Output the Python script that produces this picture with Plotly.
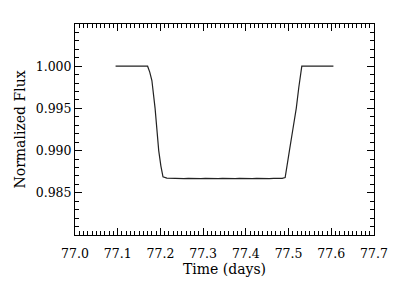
import plotly.graph_objects as go

time_days = [77.095, 77.170, 77.175, 77.180, 77.1875, 77.196, 77.201, 77.206,
             77.215, 77.225, 77.235, 77.245, 77.255, 77.265, 77.275, 77.285,
             77.295, 77.305, 77.315, 77.325, 77.335, 77.345, 77.355, 77.365,
             77.375, 77.385, 77.395, 77.405, 77.415, 77.425, 77.435, 77.445,
             77.455, 77.465, 77.475, 77.485, 77.492, 77.497, 77.502, 77.510,
             77.518, 77.524, 77.528, 77.531, 77.605]
flux = [1.0000, 1.0000, 0.9993, 0.9983, 0.9950, 0.9900, 0.9882, 0.9869,
        0.98675, 0.98672, 0.98668, 0.98672, 0.98668, 0.98672, 0.98668, 0.98672,
        0.98668, 0.98672, 0.98668, 0.98672, 0.98668, 0.98672, 0.98668, 0.98672,
        0.98668, 0.98672, 0.98668, 0.98672, 0.98668, 0.98672, 0.98668, 0.98672,
        0.98668, 0.98672, 0.98668, 0.98672, 0.98680, 0.9882, 0.9900, 0.9925,
        0.9950, 0.9975, 0.9993, 1.0000, 1.0000]

x_ticks = [77.0, 77.1, 77.2, 77.3, 77.4, 77.5, 77.6, 77.7]
y_ticks = [0.985, 0.990, 0.995, 1.000]

font = dict(family="DejaVu Serif", size=12.5, color="black")
title_font = dict(family="DejaVu Serif", size=14, color="black")

fig = go.Figure(go.Scatter(x=time_days, y=flux, mode="lines",
                           line=dict(color="#222222", width=1.2),
                           hoverinfo="skip"))

axis_common = dict(showgrid=False, zeroline=False, showline=True, linecolor="black",
                   linewidth=1, mirror="ticks", ticks="inside", ticklen=7,
                   tickcolor="black", tickwidth=1, tickfont=font, automargin=False)

fig.update_xaxes(range=[77.0, 77.7], tickvals=x_ticks,
                 ticktext=[f"{v:.1f}" for v in x_ticks],
                 ticklabelstandoff=7,
                 minor=dict(dtick=0.01, ticks="inside", ticklen=4, tickcolor="black", showgrid=False),
                 title=dict(text="Time (days)", font=title_font, standoff=0),
                 **axis_common)
fig.update_yaxes(range=[0.980, 1.005], tickvals=y_ticks,
                 ticktext=[f"{v:.3f}" for v in y_ticks],
                 minor=dict(dtick=0.001, ticks="inside", ticklen=4, tickcolor="black", showgrid=False),
                 title=dict(text="Normalized Flux", font=title_font, standoff=6),
                 **axis_common)

fig.update_layout(width=396, height=283, margin=dict(l=75, r=22, t=24, b=48),
                  plot_bgcolor="white", paper_bgcolor="white", showlegend=False)

fig.write_html("out.html")
